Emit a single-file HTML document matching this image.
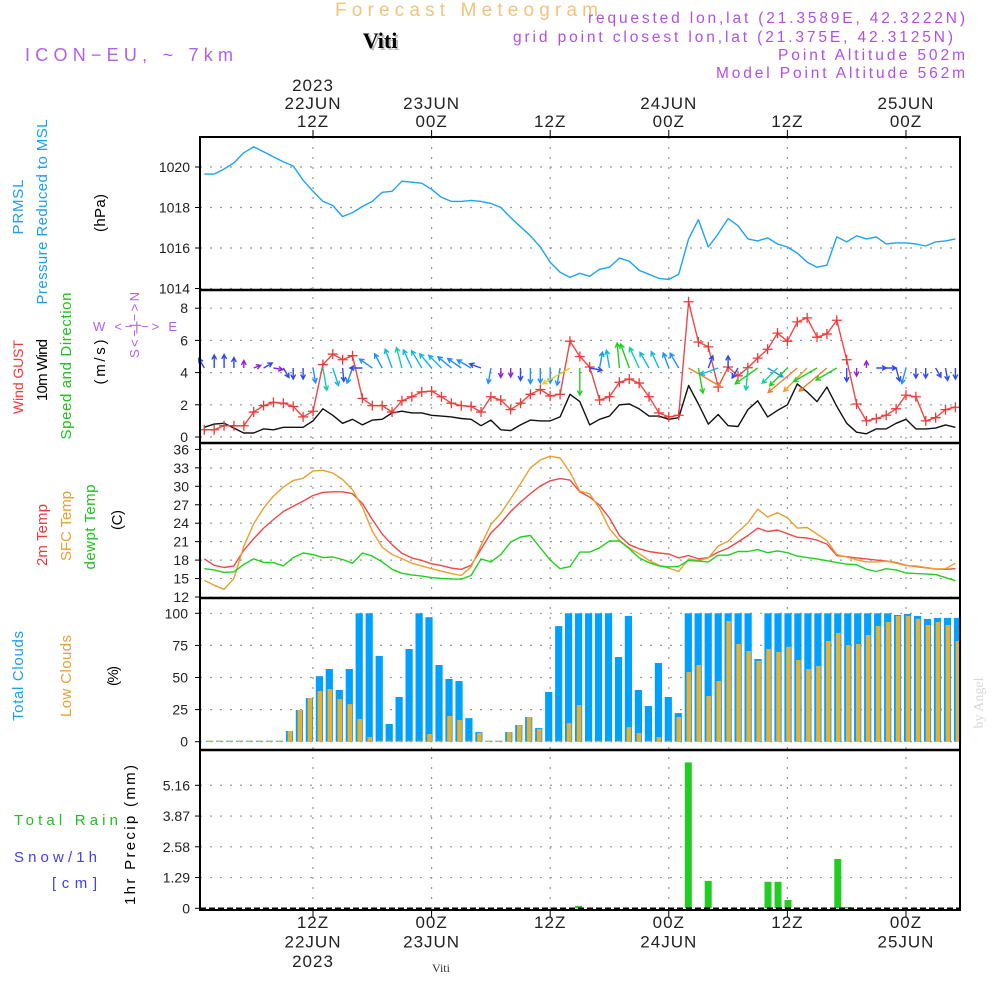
<!DOCTYPE html>
<html><head><meta charset="utf-8"><style>
html,body{margin:0;padding:0;background:#fff;}
svg{display:block;font-family:"Liberation Sans",sans-serif;}
</style></head><body>
<svg id="chart" xmlns="http://www.w3.org/2000/svg" width="1000" height="1000" viewBox="0 0 1000 1000">
<rect x="0" y="0" width="1000" height="1000" fill="#fff"/>
<!-- header -->
<text x="335" y="16" font-size="19" fill="#f2c47a" textLength="263" lengthAdjust="spacing">Forecast Meteogram</text>
<text x="380" y="48" font-size="22" font-weight="bold" font-family="Liberation Serif,serif" fill="#bbb" text-anchor="middle" transform="translate(2,2)">Viti</text>
<text x="380" y="48" font-size="22" font-weight="bold" font-family="Liberation Serif,serif" fill="#000" text-anchor="middle">Viti</text>
<text x="25" y="61" font-size="18" fill="#b060f0" textLength="208" lengthAdjust="spacing">ICON−EU, ~ 7km</text>
<g font-size="15.5" fill="#b050e8" text-anchor="end">
<text x="965" y="23" textLength="377" lengthAdjust="spacing">requested lon,lat (21.3589E, 42.3222N)</text>
<text x="953" y="42" textLength="440" lengthAdjust="spacing">grid point closest lon,lat (21.375E, 42.3125N)</text>
<text x="965" y="60" textLength="187" lengthAdjust="spacing">Point Altitude 502m</text>
<text x="965" y="78" textLength="249" lengthAdjust="spacing">Model Point Altitude 562m</text>
</g>
<!-- left labels -->
<g font-size="15">
<text transform="translate(23,207) rotate(-90)" text-anchor="middle" fill="#1aa0f0" textLength="55" lengthAdjust="spacing">PRMSL</text>
<text transform="translate(47,212) rotate(-90)" text-anchor="middle" fill="#1aa0f0" textLength="185" lengthAdjust="spacing">Pressure Reduced to MSL</text>
<text transform="translate(105,213) rotate(-90)" text-anchor="middle" fill="#000" textLength="38" lengthAdjust="spacing">(hPa)</text>
<text transform="translate(23,377) rotate(-90)" text-anchor="middle" fill="#f03838" font-size="14" textLength="74" lengthAdjust="spacing">Wind GUST</text>
<text transform="translate(47,370) rotate(-90)" text-anchor="middle" fill="#000" textLength="62" lengthAdjust="spacing">10m Wind</text>
<text transform="translate(71,366) rotate(-90)" text-anchor="middle" fill="#20c020" textLength="147" lengthAdjust="spacing">Speed and Direction</text>
<text transform="translate(105,362) rotate(-90)" text-anchor="middle" fill="#000" textLength="45" lengthAdjust="spacing">(m/s)</text>
<text transform="translate(47,535) rotate(-90)" text-anchor="middle" fill="#f03838" textLength="62" lengthAdjust="spacing">2m Temp</text>
<text transform="translate(71,526) rotate(-90)" text-anchor="middle" fill="#e8a030" textLength="70" lengthAdjust="spacing">SFC Temp</text>
<text transform="translate(95,527) rotate(-90)" text-anchor="middle" fill="#20c020" textLength="85" lengthAdjust="spacing">dewpt Temp</text>
<text transform="translate(122,520) rotate(-90)" text-anchor="middle" fill="#000" textLength="20" lengthAdjust="spacing">(C)</text>
<text transform="translate(23,676) rotate(-90)" text-anchor="middle" fill="#1aa0f0" textLength="90" lengthAdjust="spacing">Total Clouds</text>
<text transform="translate(71,676) rotate(-90)" text-anchor="middle" fill="#e8a030" textLength="82" lengthAdjust="spacing">Low Clouds</text>
<text transform="translate(118,676) rotate(-90)" text-anchor="middle" fill="#000" textLength="20" lengthAdjust="spacing">(%)</text>
<text transform="translate(135,835) rotate(-90)" text-anchor="middle" fill="#000" textLength="140" lengthAdjust="spacing">1hr Precip (mm)</text>
<text x="14" y="825" fill="#20c020" textLength="104" lengthAdjust="spacing">Total  Rain</text>
<text x="14" y="862" fill="#4040f0" textLength="83" lengthAdjust="spacing">Snow/1h</text>
<text x="52" y="888" fill="#4040f0" textLength="45" lengthAdjust="spacing">[cm]</text>
</g>
<g font-size="13" fill="#b060f0">
<text x="93" y="331" textLength="84" lengthAdjust="spacing">W &lt;−|−&gt; E</text>
<text transform="translate(139,325) rotate(-90)" text-anchor="middle" textLength="66" lengthAdjust="spacing">S&lt;−|−&gt;N</text>
</g>
<text transform="translate(983,703) rotate(-90)" text-anchor="middle" font-size="14" font-family="Liberation Serif,serif" fill="#d8d8d8">by Angel</text>
<text x="441" y="972" font-size="12" font-family="Liberation Serif,serif" fill="#333" text-anchor="middle">Viti</text>
<g id="grid"></g>
<g id="marks"></g>
<g id="frame"></g>
<g id="labels"></g>
</svg>
<script>
// ---- data ----
const hours = [];
for (let h = 1; h <= 77; h++) hours.push(h);
const pressure = [1019.65,1019.65,1019.9,1020.2,1020.7,1021.0,1020.75,1020.5,1020.25,1020.05,1019.35,1018.8,1018.3,1018.1,1017.55,1017.75,1018.05,1018.3,1018.75,1018.8,1019.3,1019.25,1019.2,1018.9,1018.5,1018.3,1018.3,1018.35,1018.3,1018.2,1018.0,1017.5,1017.05,1016.6,1016.05,1015.3,1014.8,1014.55,1014.75,1014.6,1014.95,1015.05,1015.5,1015.35,1014.9,1014.7,1014.5,1014.45,1014.7,1016.45,1017.4,1016.05,1016.7,1017.45,1017.1,1016.45,1016.35,1016.5,1016.2,1016.05,1015.75,1015.3,1015.05,1015.15,1016.55,1016.3,1016.6,1016.45,1016.55,1016.2,1016.25,1016.25,1016.2,1016.1,1016.3,1016.35,1016.45];
const windSpeed = [0.6,0.8,0.85,0.55,0.25,0.25,0.5,0.45,0.6,0.6,0.6,1.0,1.75,1.35,0.85,1.1,0.75,1.05,1.1,1.5,1.6,1.5,1.5,1.35,1.3,1.25,1.15,1.1,0.7,1.05,0.45,0.4,0.75,1.05,1.0,1.0,1.25,2.65,2.2,0.75,1.1,1.3,2.0,2.05,1.75,1.3,1.3,1.1,1.2,3.2,2.05,0.8,1.4,0.7,0.65,1.7,2.25,1.25,1.65,2.0,3.3,2.8,2.2,3.1,1.9,0.85,0.3,0.2,0.5,0.5,0.85,1.1,0.5,0.5,0.55,0.75,0.6];
const windGust = [0.45,0.45,0.7,0.7,0.7,1.55,1.95,2.15,2.1,1.9,1.25,1.6,4.5,5.15,4.8,5.05,2.4,1.95,1.95,1.55,2.25,2.5,2.8,2.85,2.5,2.1,1.95,1.9,1.55,2.5,2.3,1.7,2.1,2.65,2.95,2.55,2.65,5.95,5.0,4.35,2.3,2.5,3.4,3.6,3.35,2.5,1.5,1.25,1.35,8.4,5.9,5.6,3.1,4.35,3.8,4.3,4.9,5.45,6.45,5.95,7.15,7.4,6.2,6.4,7.25,4.8,2.05,1.0,1.15,1.35,1.75,2.6,2.5,1.0,1.2,1.7,1.85];
const windDir = [330,0,0,0,0,70,60,100,150,180,180,170,170,162,175,200,270,305,332,340,345,335,330,320,315,310,305,300,290,190,180,180,180,180,180,180,190,240,180,100,10,350,355,340,335,330,335,340,330,120,170,20,250,0,210,185,235,120,225,225,230,225,240,230,240,180,180,0,90,90,165,195,180,180,150,170,180];
const temp2m = [18.2,17.15,16.8,17.05,19.6,21.5,23.2,24.6,25.9,26.75,27.6,28.5,29.0,29.1,29.1,28.8,27.2,24.6,22.25,20.5,19.1,18.35,17.95,17.4,17.1,16.7,16.5,17.15,19.75,22.4,24.0,25.9,27.45,28.8,30.05,30.9,31.25,31.0,29.1,28.25,26.9,24.85,22.0,20.5,19.85,19.4,19.15,19.0,18.35,18.75,18.2,18.4,19.3,19.95,20.95,22.0,23.2,22.65,22.9,22.3,21.7,21.6,21.25,20.6,18.75,18.55,18.35,18.2,18.0,17.85,17.6,17.15,16.95,16.75,16.55,16.5,16.6];
const tempSfc = [14.7,13.9,13.25,15.0,20.25,23.9,26.45,28.4,29.9,30.95,31.3,32.5,32.6,32.15,31.1,29.45,26.6,22.7,20.1,18.9,18.25,17.5,17.05,16.6,16.2,15.8,15.5,16.9,20.4,23.8,25.6,28.0,30.4,33.0,34.3,34.9,34.6,32.3,29.2,28.8,26.35,23.1,21.2,19.95,19.05,17.95,17.15,16.7,16.15,18.2,17.95,18.35,20.3,21.05,22.6,24.05,26.3,25.0,25.7,24.9,23.2,23.3,22.25,21.15,18.9,18.5,18.05,17.7,17.7,17.85,17.5,17.1,17.05,16.8,16.55,16.6,17.5];
const dewpoint = [16.6,16.4,16.0,16.1,17.3,18.2,17.65,17.6,17.05,18.4,19.15,18.9,18.4,18.5,18.1,17.5,19.15,18.65,17.7,16.5,15.85,15.6,15.4,15.15,15.0,14.95,14.9,15.5,18.2,17.7,18.9,20.95,21.75,22.0,20.0,18.0,16.6,16.95,19.3,19.3,20.0,21.1,21.1,19.85,18.35,17.6,17.05,16.9,17.0,17.95,17.85,17.7,18.8,18.8,19.4,19.4,19.7,19.2,19.5,19.2,18.65,18.4,18.2,17.9,17.6,17.35,17.25,16.5,16.15,16.6,16.4,15.9,15.8,15.75,15.65,15.15,14.65];
const totalClouds = [0,0,0,0,0,0,0,0,8.3,24.7,34,51,56.6,40.3,56.6,100,100,66.8,13.8,34.8,72.2,100,97,59.7,48.8,47.3,18.4,7.5,0.5,0,7.5,13,19.2,10.6,38.7,90,100,100,100,100,100,66,98,40.3,27.8,61.3,34.8,22.3,100,100,100,100,100,100,100,64.4,100,100,100,100,100,100,100,100,100,100,100,100,100,98.7,99.5,98,95.6,96.4,96.4,96.4];
const lowClouds = [0,0,0,0,0,0,0,0,8.3,24.7,34,39.5,41,33.2,29.3,17.7,3.6,0,0,0,0,0,6,0,20,16.9,0,6.8,0.5,0,7.5,13,19.2,9.9,0,0,14.5,28.6,0,0,0,0,11.4,6.8,0,3.6,0.5,19.2,54.3,59.7,35.6,47.3,94,76.1,70.6,62.9,72.2,69.9,73.8,63.6,56.6,59,78.4,84.7,75.3,76.1,83.1,90.1,93.2,98,98,95.6,90.9,93.2,90.9,78.4];
const precip = [0,0,0,0,0,0,0,0,0,0,0,0,0,0,0,0,0,0,0,0,0,0,0,0,0,0,0,0,0,0,0,0,0,0,0,0,0,0.1,0,0,0,0,0,0,0,0,0,0,6.12,0,1.15,0,0,0,0,0,1.11,1.11,0.35,0,0,0,0,2.07,0.05,0,0,0,0,0,0,0,0,0,0,0];
const pressureTicks = [1014,1016,1018,1020];
const windTicks = [0,2,4,6,8];
const tempTicks = [12,15,18,21,24,27,30,33,36];
const cloudTicks = [0,25,50,75,100];
const precipTicks = [0,1.29,2.58,3.87,5.16];
const timeTicks = [12,24,36,48,60,72];
const topLabels = [["2023","22JUN","12Z"],["","23JUN","00Z"],["","","12Z"],["","24JUN","00Z"],["","","12Z"],["","25JUN","00Z"]];
const bottomLabels = [["12Z","22JUN","2023"],["00Z","23JUN",""],["12Z","",""],["00Z","24JUN",""],["12Z","",""],["00Z","25JUN",""]];

// ---- scales ----
const X = h => 313 + (h - 12) * 9.883;
const XB = i => 209.7 + i * 9.97;            // bar index scale
const yP = p => 167 - (p - 1020) * 20.25;
const yW = v => 437 - v * 16.1;
const yT = t => 597 - (t - 12) * 6.15;
const yC = c => 741.7 - c * 1.284;
const yR = r => 908.3 - r * 23.84;
const PL = 200, PR = 960;
const NS = "http://www.w3.org/2000/svg";
function mk(parent, tag, attrs, text) {
  const e = document.createElementNS(NS, tag);
  for (const k in attrs) e.setAttribute(k, attrs[k]);
  if (text !== undefined) e.textContent = text;
  parent.appendChild(e);
  return e;
}
const G = document.getElementById('grid');
const M = document.getElementById('marks');
const F = document.getElementById('frame');
const L = document.getElementById('labels');

// ---- grid ----
const panels = [[137,290],[290,443],[443,598],[598,750],[750,910]];
timeTicks.forEach(h => {
  const l = mk(G, 'line', {x1:X(h), x2:X(h), y1:137, y2:910, stroke:'#999', 'stroke-width':1.2, 'stroke-dasharray':'2,8'});
  
  
});
function hgrid(ticks, sc, name) {
  ticks.forEach(v => {
    const l = mk(G, 'line', {x1:PL, x2:PR, y1:sc(v), y2:sc(v), stroke:'#999', 'stroke-width':1.2, 'stroke-dasharray':'2,8'});
    
    
  });
}
hgrid(pressureTicks, yP, 'pressure-gridline');
hgrid(windTicks, yW, 'wind-gridline');
hgrid(tempTicks, yT, 'temp-gridline');
hgrid(cloudTicks, yC, 'cloud-gridline');
hgrid(precipTicks.slice(1), yR, 'precip-gridline');

// ---- y tick labels ----
function ylabels(ticks, sc, name, fmt, x) {
  ticks.forEach(v => {
    const t = mk(L, 'text', {x:x, y:sc(v)+5, 'font-size':14, fill:'#222', 'text-anchor':'end'}, fmt(v));
    
    
    const tk = mk(L, 'line', {x1:PL-5, x2:PL, y1:sc(v), y2:sc(v), stroke:'#000', 'stroke-width':1});
    
    
  });
}
ylabels(pressureTicks, yP, 'pressure-tick-label', v => String(v), 190);
ylabels(windTicks, yW, 'wind-tick-label', v => String(v), 188);
ylabels(tempTicks, yT, 'temp-tick-label', v => String(v), 189);
ylabels(cloudTicks, yC, 'cloud-tick-label', v => String(v), 188);
ylabels(precipTicks, yR, 'precip-tick-label', v => v === 0 ? '0' : v.toFixed(2), 190);

// ---- time labels ----
timeTicks.forEach((h, i) => {
  topLabels[i].forEach((s, j) => {
    if (!s) return;
    const t = mk(L, 'text', {x:X(h), y:91 + j*18, 'font-size':17, fill:'#222', 'text-anchor':'middle', 'letter-spacing':'1'}, s);
    
    
  });
  bottomLabels[i].forEach((s, j) => {
    if (!s) return;
    const t = mk(L, 'text', {x:X(h), y:928 + j*19.5, 'font-size':17, fill:'#222', 'text-anchor':'middle', 'letter-spacing':'1'}, s);
    
    
  });
  const tk = mk(L, 'line', {x1:X(h), x2:X(h), y1:130, y2:137, stroke:'#000'});
  
  
  const tb = mk(L, 'line', {x1:X(h), x2:X(h), y1:910, y2:917, stroke:'#000'});
  
  
});

// ---- series lines ----
function line(vals, sc, color, name, w) {
  const d = vals.map((v, i) => (i ? 'L' : 'M') + X(hours[i]).toFixed(1) + ',' + sc(v).toFixed(1)).join('');
  const p = mk(M, 'path', {d:d, fill:'none', stroke:color, 'stroke-width':w || 1.4, 'stroke-linejoin':'round'});
  
  
}
line(pressure, yP, '#1ea4f4', 'pressure-line');
line(windSpeed, yW, '#111', 'wind-speed-line');
line(windGust, yW, '#f04848', 'wind-gust-line');
windGust.forEach((v, i) => {
  const x = X(hours[i]), y = yW(v);
  const g = mk(M, 'path', {d:`M${x-5},${y}H${x+5}M${x},${y-5}V${y+5}`, stroke:'#f03838', 'stroke-width':1.3});
  
  
});
line(temp2m, yT, '#f04848', 'temp-2m-line');
line(tempSfc, yT, '#e8a030', 'temp-sfc-line');
line(dewpoint, yT, '#22d022', 'dewpoint-line');

// ---- wind arrows ----
function windColor(v) {
  if (v < 0.5) return '#9020e0';
  if (v < 0.9) return '#3048f0';
  if (v < 1.3) return '#1e90ff';
  if (v < 1.6) return '#10b8e0';
  if (v < 1.9) return '#10d0a0';
  if (v < 2.3) return '#20d020';
  if (v < 2.7) return '#e8d010';
  if (v < 3.0) return '#f0a020';
  return '#f08030';
}
windDir.forEach((d, i) => {
  const v = windSpeed[i];
  const len = 5 + 10 * v;
  const a = d * Math.PI / 180;
  const x0 = X(hours[i]), y0 = 368;
  const x1 = x0 + len * Math.sin(a), y1 = y0 - len * Math.cos(a);
  const hl = 5, ha = 0.5;
  const hx1 = x1 - hl * Math.sin(a - ha), hy1 = y1 + hl * Math.cos(a - ha);
  const hx2 = x1 - hl * Math.sin(a + ha), hy2 = y1 + hl * Math.cos(a + ha);
  const p = mk(M, 'path', {d:`M${x0.toFixed(1)},${y0}L${x1.toFixed(1)},${y1.toFixed(1)}M${hx1.toFixed(1)},${hy1.toFixed(1)}L${x1.toFixed(1)},${y1.toFixed(1)}L${hx2.toFixed(1)},${hy2.toFixed(1)}`, fill:'none', stroke:windColor(v), 'stroke-width':1.4});
  
  
});

// ---- cloud bars ----
totalClouds.forEach((v, i) => {
  const h = Math.max(v * 1.284, 1);
  const r = mk(M, 'rect', {x:(XB(i)-3.6).toFixed(1), y:(yC(0)-h).toFixed(1), width:7.2, height:h.toFixed(1), fill:'#00a0ff'});
  
  
});
lowClouds.forEach((v, i) => {
  const h = Math.max(v * 1.284, 1);
  const r = mk(M, 'rect', {x:(XB(i)-1.8).toFixed(1), y:(yC(0)-h).toFixed(1), width:4.6, height:h.toFixed(1), fill:'#e8b030'});
  
  
});
// ---- precip bars ----
precip.forEach((v, i) => {
  if (v <= 0) return;
  const h = v * 23.84;
  const r = mk(M, 'rect', {x:(XB(i)-3.5).toFixed(1), y:(yR(0)-h).toFixed(1), width:7, height:h.toFixed(1), fill:'#22cc22'});
  
  
});
const zl = mk(M, 'line', {x1:PL, x2:PR, y1:yR(0), y2:yR(0), stroke:'#000', 'stroke-width':1.5, 'stroke-dasharray':'6,3'});



// ---- frame ----
const fr = mk(F, 'rect', {x:PL, y:137, width:PR-PL, height:773, fill:'none', stroke:'#000', 'stroke-width':2});


panels.slice(1).forEach(p => {
  const l = mk(F, 'line', {x1:PL, x2:PR, y1:p[0], y2:p[0], stroke:'#000', 'stroke-width':2.5});
  
  
});
</script>
</body></html>
